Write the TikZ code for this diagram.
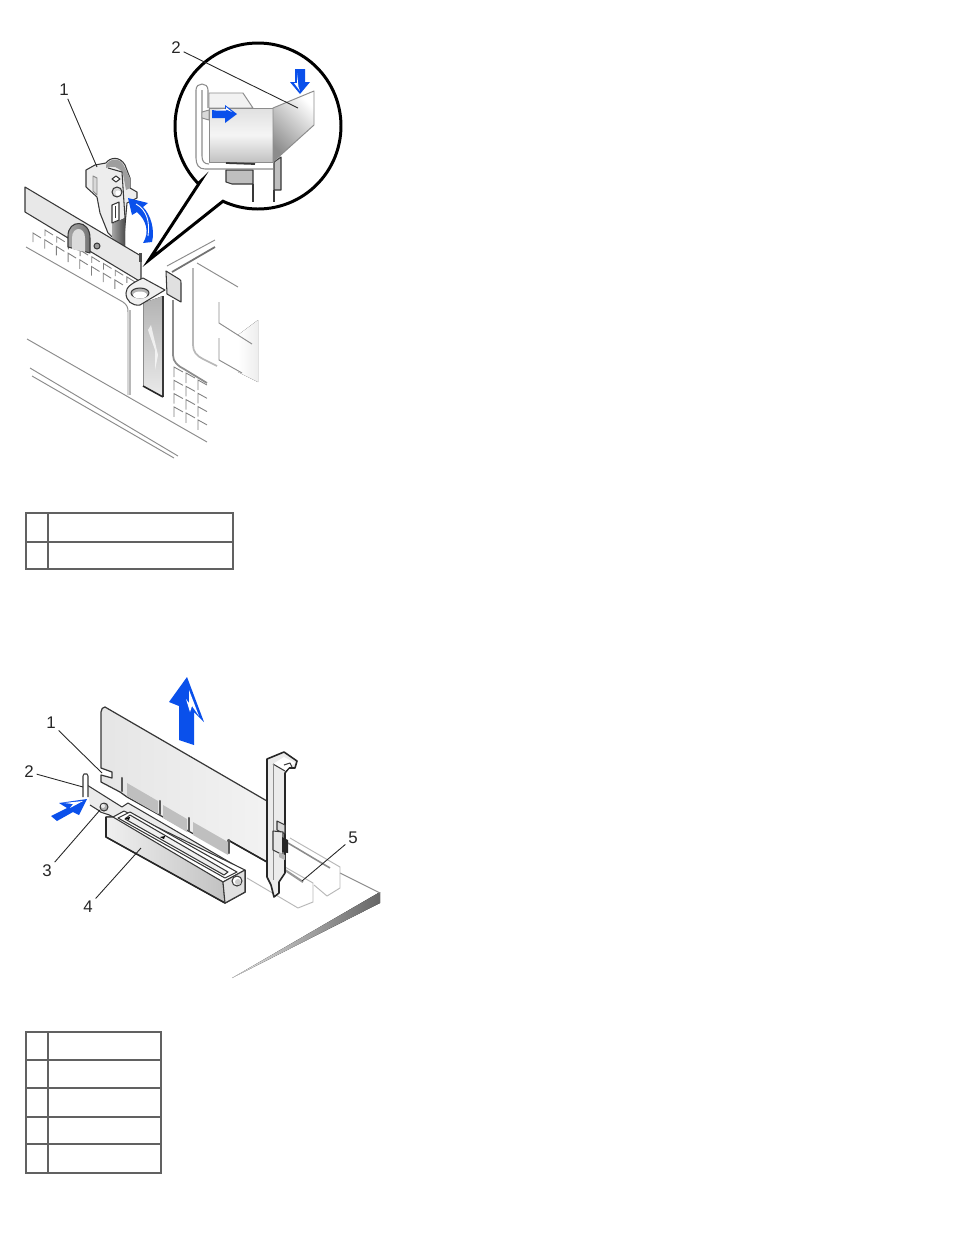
\documentclass[tikz,border=0pt]{standalone}
\usepackage{fontspec}
\setmainfont{Liberation Sans}
\usetikzlibrary{calc,positioning}
\definecolor{dellblue}{RGB}{10,80,235}
\tikzset{
    partline/.style={draw=black!78, line width=0.6pt, line join=round},
    softline/.style={draw=black!45, line width=0.55pt, line join=round},
    fadeline/.style={draw=black!28, line width=0.55pt, line join=round},
    heavyline/.style={draw=black!85, line width=0.9pt, line join=round},
    leader/.style={draw=black!85, line width=0.5pt},
    callout/.style={draw=black, line width=1.7pt, line join=miter},
    bluearrow/.style={fill=dellblue, draw=none},
    shine/.style={fill=white, draw=none},
    partnum/.style={inner sep=1.5pt, font=\fontsize{9.6}{10}\selectfont, text=black!85},
    tableline/.style={draw=black!62, line width=1pt},
    gridmark/.style={draw=black!50, line width=0.5pt}
}
\begin{document}
\begin{tikzpicture}[x=0.02cm, y=-0.02cm]
    \useasboundingbox (0,0) rectangle (954,1235);

    % ---------- top drawing ----------
    % lower lines of the frame
    \draw[softline] (27,339) -- (207,442);
    \draw[softline] (30,368) -- (178,456);
    \draw[softline] (32,376) -- (174,458);
    \draw[softline] (26,247) -- (123,302) .. controls (127,305) and (128,307) .. (128,312) -- (128,395);
    \draw[fadeline, line width=1pt] (130,310) -- (130,395);

    % grid of the chassis, left of the card
    \foreach \i in {0,...,7} {
        \draw[gridmark] ({33+11.7*\i+8},{233+6.7*\i+5}) -- ({33+11.7*\i},{233+6.7*\i}) -- ({33+11.7*\i},{233+6.7*\i+9});
        \draw[gridmark] ({45+11.7*\i+8},{230+6.7*\i+5}) -- ({45+11.7*\i},{230+6.7*\i}) -- ({45+11.7*\i},{230+6.7*\i+6});
    }
    % grid of the chassis, right of the card
    \foreach \c/\t in {174/367, 186/373, 198/380} {
        \foreach \r in {0,...,3} {
            \draw[gridmark] ({\c+9},{\t+13.3*\r+5}) -- ({\c},{\t+13.3*\r}) -- ({\c},{\t+13.3*\r+10});
        }
    }

    % neighbouring card
    \fill[left color=white, right color=black!7] (238,335) -- (258,320) -- (258,382) -- (238,372) -- cycle;
    \draw[fadeline, line width=1pt] (193,268) -- (193,345) .. controls (193,352) and (197,356) .. (203,359) -- (217,366);
    \draw[softline] (197,263) -- (238,287);
    \draw[softline] (219,302) -- (219,323) -- (252,344);
    \draw[softline] (219,338) -- (219,360) -- (242,373);
    \draw[softline, line width=1pt] (173,300) -- (173,355) .. controls (173,362) and (178,366) .. (184,369) -- (207,383);
    \draw[softline] (167,266) -- (215,240);
    \draw[draw=black!55, line width=1pt] (172,272) -- (215,247);

    % retention arm
    \draw[partline, fill=black!7] (86,170) -- (95,165) -- (106,163) .. controls (110,157) and (120,156) .. (125,165) -- (130,178)
        -- (130,188) -- (137,192) -- (137,198) -- (127,203) -- (123,247) -- (108,233) -- (100,213)
        -- (97,197) -- (86,187) -- cycle;
    \fill[black!38] (106,165) .. controls (110,158) and (120,157) .. (124,166) -- (130,178) -- (130,188) -- (126,190) -- (123,174) .. controls (120,167) and (112,165) .. (106,168) -- cycle;
    \draw[partline] (108,168) -- (122,172) -- (125,218);
    \draw[softline, fill=black!15] (93,176) -- (97,178) -- (97,195) -- (93,191) -- cycle;
    \draw[partline, fill=black!15] (117,192) circle (5);
    \fill[white] (118,193) circle (2.6);
    \draw[partline, fill=white] (116,176) -- (120,179) -- (116,182) -- (112,179) -- cycle;
    \draw[partline, fill=white] (112,205) -- (119,202) -- (119,220) -- (112,223) -- cycle;
    \draw[partline] (115.5,206) -- (115.5,218);
    \fill[left color=black!35, right color=black!70] (112,224) -- (125,218) -- (125,247) -- (112,240) -- cycle;

    % rail over the retention arm
    \draw[partline, fill=black!9] (25,187) -- (141,256) -- (141,282) -- (25,212) -- cycle;
    \fill[black!70] (139,253) rectangle (142,262);
    \draw[partline, left color=black!35, right color=black!55] (68,247) -- (68,236) .. controls (68,219) and (90,219) .. (90,238) -- (90,253) -- cycle;
    \fill[black!14] (72,249) -- (72,238) .. controls (72,226) and (85,226) .. (85,238) -- (85,252) -- cycle;
    \draw[partline, fill=black!40] (97,246) circle (3);

    % filler bracket and its tab
    \fill[top color=black!30, bottom color=black!8] (143,303) -- (163,296) -- (163,397) -- (143,386) -- cycle;
    \fill[white, opacity=0.7] (148,330) -- (151,325) -- (158,355) -- (155,370) -- (155,350) -- cycle;
    \draw[softline] (143,303) -- (143,386);
    \draw[partline] (163,296) -- (163,397);
    \draw[heavyline] (143,386) -- (163,397);
    \draw[partline, fill=black!6] (143,278) .. controls (132,283) and (126,287) .. (126,293)
        .. controls (126,301) and (132,306) .. (140,305) -- (165,290) -- cycle;
    \draw[partline, fill=black!30] (140,293) ellipse (9 and 5);
    \fill[white] (140,295) ellipse (7 and 3.5);
    \draw[partline, fill=black!12] (166,271) -- (179,279) .. controls (181,280) and (181,281) .. (181,283) -- (181,302) -- (167,294) -- cycle;

    % balloon round the detail
    \fill[white] (149,260) -- (200,182) -- plot[domain=136:475, samples=110] ({258+83*cos(\x)},{126+83*sin(\x)}) -- cycle;

    % detail: parts under the cover
    \draw[partline, fill=black!25] (226,170) -- (226,182) -- (232,184) -- (253,184) -- (253,170) -- cycle;
    \draw[partline] (253,184) -- (253,202);
    \draw[partline] (274,190) -- (274,202);
    \draw[partline, fill=black!25] (274,162) -- (281,157) -- (281,190) -- (274,190) -- cycle;
    % detail: wire loop
    \draw[softline, line width=0.6pt] (196,90) .. controls (196,82) and (208,82) .. (208,90) -- (208,108);
    \draw[softline, line width=0.6pt] (196,90) -- (196,158) .. controls (196,165) and (199,169) .. (205,169) -- (273,169);
    \draw[softline, line width=0.6pt] (202,90) -- (202,156) .. controls (202,161) and (204,164) .. (209,164);
    \draw[softline, fill=black!15] (202,112) -- (202,118) -- (209,120) -- (209,110) -- cycle;
    % detail: cover
    \draw[softline, fill=black!5] (209,93) -- (243,93) -- (253,108) -- (209,108) -- cycle;
    \draw[softline, top color=black!12, bottom color=black!24, middle color=black!4] (209,108) -- (273,108) -- (273,162) -- (209,162) -- cycle;
    \draw[partline, line width=1pt] (226,163) -- (255,164);
    \draw[softline, left color=black!45, right color=white, shading angle=135] (273,108) -- (314,91) -- (314,125) -- (273,162) -- cycle;
    % detail: arrows
    \fill[bluearrow] (212,110) -- (225,110) -- (225,105) -- (237,114) -- (225,123) -- (225,118) -- (212,118) -- cycle;
    \fill[shine] (214,110.5) -- (226,110.5) -- (226,107) -- (232,112) -- (225,109) -- cycle;
    \fill[bluearrow] (295,69) -- (305,69) -- (305,82) -- (310,82) -- (300,94) -- (290,82) -- (295,82) -- cycle;
    \fill[shine] (294,83) -- (297,83) -- (297,73) -- (298.5,87) -- (300,91) -- cycle;

    % balloon outline
    \draw[callout] (149,260) -- (200,182) -- plot[domain=136:475, samples=110] ({258+83*cos(\x)},{126+83*sin(\x)}) -- cycle;

    % curved arrow
    \fill[bluearrow] (143,243) .. controls (150,232) and (146,220) .. (137,212) -- (132,215) -- (128,198) -- (148,203) -- (143,207) .. controls (151,215) and (155,230) .. (152,242) -- cycle;
    \draw[white, line width=0.5pt] (136,204) .. controls (147,210) and (150,222) .. (148,236);

    % part numbers, top drawing
    \node[partnum] (topone) at (64,90) {1};
    \node[partnum] (toptwo) at (176,48) {2};
    \coordinate (toponetip) at (97,167);
    \coordinate (toptwotip) at (298,108);
    \draw[leader] (topone) -- (toponetip);
    \draw[leader] (toptwo) -- (toptwotip);

    % table under the top drawing
    \draw[tableline] (26,513) rectangle (233,569);
    \draw[tableline] (26,542) -- (233,542);
    \draw[tableline] (48,513) -- (48,569);

    % ---------- bottom drawing ----------
    % board
    \fill[left color=black!12, right color=black!60] (232,978) -- (380,892) -- (380,903) -- cycle;
    \draw[softline] (340,873) -- (380,893);
    % rear connectors under the card
    \draw[fadeline] (290,838) -- (340,867) -- (340,888) -- (327,896) -- (314,885);
    \draw[fadeline] (247,878) -- (298,908) -- (313,902) -- (313,883) -- (285,867);
    \draw[softline, line width=0.9pt] (288,843) -- (330,868);
    \draw[draw=black!40, line width=1.2pt] (285,870) -- (303,882);

    % card
    \draw[partline, line width=0.7pt, left color=black!10, middle color=black!28, right color=black!5]
        (105,707) -- (267,801) -- (267,862) -- (228,840) -- (228,853) -- (127,797) -- (120,792) -- (101,782)
        -- (101,775) -- (112,778) -- (112,772) -- (101,768) -- (101,712) .. controls (101,709) and (103,707) .. (105,707) -- cycle;
    \draw[heavyline] (228,840) -- (267,862);
    \foreach \a/\b/\c/\d in {127/783/158/801, 163/805/187/819, 193/822/228/842} {
        \fill[black!25] (\a,\b) -- (\c,\d) -- (\c,\d+13) -- (\a,\b+13) -- cycle;
    }
    \foreach \a/\b in {122/778, 160/801, 189/818, 229/840} {
        \draw[draw=black!65, line width=1.2pt, line cap=round] (\a,\b) -- (\a,\b+13);
    }

    % guide bar and pin
    \fill[black!8] (87,785) -- (122,807) -- (128,803) -- (243,870) -- (223,882) -- (98,810) -- (90,805) -- cycle;
    \draw[partline] (87,785) -- (122,807) -- (128,803) -- (243,870);
    \draw[partline] (90,805) -- (98,810);
    \draw[partline, fill=white] (83,797) -- (83,776) -- (84,774) -- (87,774) -- (88,776) -- (88,797);

    % connector
    \draw[partline, fill=white] (106,817) -- (113,817) -- (124,811) -- (245,870) -- (223,882) -- cycle;
    \draw[partline, fill=white] (118,818) -- (130,812) -- (237,872) -- (225,878) -- cycle;
    \draw[partline, fill=black!6] (125,819) -- (130,815) -- (228,872) -- (224,875) -- cycle;
    \fill[black] (125,818) -- (130,817) -- (129,820) -- cycle;
    \fill[black] (160,837) -- (165,836) -- (164,839) -- cycle;
    \draw[partline, left color=black!6, right color=black!24] (106,817) -- (113,817) -- (223,882) -- (225,903) -- (106,837) -- cycle;
    \draw[heavyline] (106,817) -- (106,837) -- (225,903) -- (245,892) -- (245,870);
    \draw[partline, fill=black!12] (223,882) -- (245,870) -- (245,892) -- (225,903) -- cycle;
    \draw[partline, fill=white] (237,881) circle (5);
    \fill[black!20] (238,882) circle (3);
    \draw[partline] (98,810) .. controls (101,814) and (108,813) .. (113,817);
    \draw[partline, fill=black!30] (104,807) circle (4);
    \fill[black!8] (103,806) circle (2);

    % metal bracket
    \draw[heavyline, fill=black!8] (267,759) -- (284,752) -- (297,761) -- (295,768) -- (289,768) -- (285,773)
        -- (285,873) -- (279,882) -- (279,893) -- (274,897) -- (271,885) -- (267,877) -- cycle;
    \fill[white] (273,764) -- (284,757) -- (295,763) -- (289,767) -- (285,771) -- cycle;
    \draw[partline] (273,764) -- (285,771);
    \draw[partline] (284,765) -- (290,763) -- (292,767);
    \draw[softline] (273,764) -- (273,831);
    \draw[softline] (273,850) -- (273,880);
    \draw[partline, fill=black!15] (277,821) -- (285,825) -- (285,834) -- (277,830) -- cycle;
    \draw[partline, fill=black!10] (273,831) -- (283,832) -- (283,855) -- (273,850) -- cycle;
    \fill[black!85] (282,837) -- (288,840) -- (288,853) -- (282,852) -- cycle;
    \fill[black!30] (279,852) -- (285,855) -- (285,860) -- (279,857) -- cycle;

    % lifting arrow
    \fill[bluearrow] (187,677) -- (169,702) -- (179,706) -- (179,740) -- (194,745) -- (194,712) -- (204,722) -- cycle;
    \fill[shine] (189,690) -- (199,716) -- (192,706) -- (190,712) -- (186,699) -- (189,703) -- cycle;
    % push arrow
    \fill[bluearrow] (51,816) -- (57,821) -- (73,812) -- (79,815) -- (87,799) -- (59,803) -- (67,808) -- cycle;
    \fill[shine] (64,803) -- (83,801) -- (70,808) -- (73,804) -- cycle;

    % part numbers, bottom drawing
    \node[partnum] (botone) at (51,723) {1};
    \node[partnum] (bottwo) at (29,772) {2};
    \node[partnum] (botthree) at (47,871) {3};
    \node[partnum] (botfour) at (88,907) {4};
    \node[partnum] (botfive) at (353,838) {5};
    \coordinate (botonetip) at (102,773);
    \coordinate (bottwotip) at (83,787);
    \coordinate (botthreetip) at (100,810);
    \coordinate (botfourtip) at (141,848);
    \coordinate (botfivetip) at (302,881);
    \draw[leader] (botone) -- (botonetip);
    \draw[leader] (bottwo) -- (bottwotip);
    \draw[leader] (botthree) -- (botthreetip);
    \draw[leader] (botfour) -- (botfourtip);
    \draw[leader] (botfive) -- (botfivetip);

    % table under the bottom drawing
    \draw[tableline] (26,1032) rectangle (161,1173);
    \foreach \r in {1060,1088,1117,1144} {
        \draw[tableline] (26,\r) -- (161,\r);
    }
    \draw[tableline] (48,1032) -- (48,1173);

\end{tikzpicture}
\end{document}
